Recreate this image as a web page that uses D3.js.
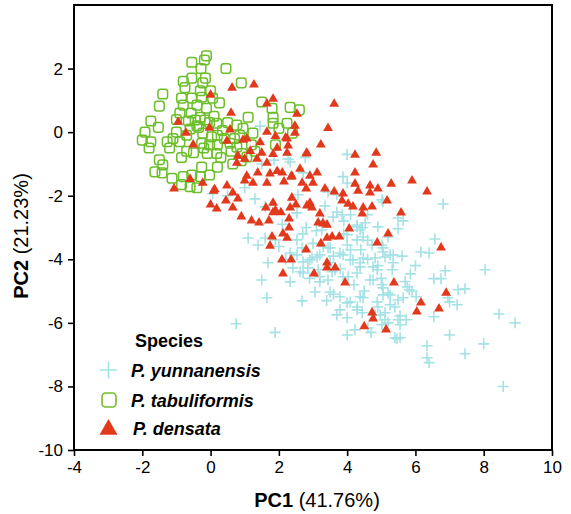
<!DOCTYPE html>
<html><head><meta charset="utf-8">
<script src="https://cdn.jsdelivr.net/npm/d3@7"></script>
<style>
body{margin:0;background:#fff;}
svg{display:block;font-family:"Liberation Sans",Arial,Helvetica,sans-serif;}
</style></head>
<body><svg id="c" width="571" height="514"></svg>
<script>
const xTicks=[-4,-2,0,2,4,6,8,10];
const yTicks=[-10,-8,-6,-4,-2,0,2];
const speciesNames=["P. yunnanensis","P. tabuliformis","P. densata"];
const xTitle=["PC1"," (41.76%)"];
const yTitle=["PC2"," (21.23%)"];

const yunnanensis=[[4.0,-0.7],[2.77,-0.8],[3.88,-1.4],[4.0,-1.6],[2.33,-0.94],[3.44,-1.88],[5.02,-2.13],[1.6,-2.35],[2.53,-2.54],[3.7,-2.51],[3.59,-2.67],[3.85,-2.6],[3.26,-3.08],[4.29,-2.98],[4.53,-2.85],[4.9,-2.98],[4.38,-3.08],[1.1,-3.33],[1.39,-3.55],[1.6,-3.33],[1.9,-3.39],[2.53,-3.39],[2.68,-3.64],[2.53,-3.86],[2.97,-3.96],[3.2,-3.86],[3.5,-3.64],[4.0,-3.55],[4.29,-3.39],[4.47,-3.3],[4.73,-3.55],[5.05,-3.77],[4.82,-3.96],[4.09,-4.02],[4.38,-4.24],[3.65,-4.33],[3.15,-4.33],[1.68,-4.11],[2.41,-4.27],[2.71,-4.43],[4.88,-4.33],[3.88,-4.55],
[1.5,-4.65],[1.65,-5.21],[0.75,-6.03],[1.89,-6.3],[2.68,-5.31],[2.33,-4.71],[3.06,-5.03],[2.85,-4.27],[3.2,-4.55],[3.5,-5.03],[3.7,-5.75],[4.0,-5.84],[3.79,-5.59],[4.09,-5.34],[4.0,-6.38],[4.23,-6.22],[4.61,-6.16],[5.02,-6.06],[5.4,-6.47],[4.29,-5.59],[4.82,-5.75],[5.11,-5.9],[4.38,-5.18],[3.79,-5.18],[4.03,-4.55],[4.29,-4.43],[4.67,-4.65],[5.02,-4.8],[5.2,-5.06],[4.88,-5.34],[5.26,-5.43],[4.38,-4.11],[4.76,-4.24],[5.11,-3.93],[5.35,-4.11],[3.88,-3.86],[4.17,-4.02],[3.12,-3.93],[2.71,-4.08],[2.33,-3.8],[3.2,-4.71],[3.44,-4.65],[3.56,-4.39],
[5.05,-2.2],[6.81,-2.26],[5.49,-2.7],[5.64,-2.79],[5.49,-3.04],[6.57,-3.36],[6.16,-3.77],[6.4,-3.8],[5.61,-3.9],[5.35,-3.86],[5.05,-3.64],[5.32,-4.33],[5.85,-4.46],[6.87,-4.36],[6.54,-4.61],[6.75,-4.61],[8.04,-4.33],[5.76,-4.87],[5.82,-4.96],[5.64,-5.21],[6.02,-5.18],[7.0,-5.34],[7.22,-5.43],[7.25,-4.96],[7.45,-4.93],[6.95,-5.21],[5.05,-5.12],[5.11,-5.68],[5.55,-5.78],[5.73,-5.9],[6.54,-5.81],[5.55,-6.06],[8.45,-5.72],[8.92,-6.0],[7.0,-6.38],[8.0,-6.66],[6.34,-6.72],[7.45,-6.97],[6.34,-7.1],[6.4,-7.25],[5.46,-6.5],[8.57,-8.0],
[1.45,0.19],[2.27,-0.85],[2.71,-1.28],[2.56,-1.97],[1.86,-0.88],[0.06,-1.94],[3.7,-1.97],
[3.35,-2.32],[4.29,-2.92],[4.44,-3.01],[4.0,-3.23],[5.02,-3.55],[3.44,-3.64],[3.79,-3.8],[4.47,-3.96],[5.26,-3.86],[2.91,-4.02],[2.62,-4.39],[4.76,-4.65],[5.05,-4.9],[5.26,-5.12],[5.49,-5.28],[4.47,-5.21],[4.0,-5.37],[4.44,-5.68],[4.97,-5.75],[5.49,-5.9],[5.55,-6.47],
[3.3,-3.6],[3.6,-3.9],[3.9,-3.2],[4.1,-3.7],[4.4,-3.7],[4.6,-4.0],[3.0,-3.5],[3.8,-4.3],[4.2,-4.8],[4.5,-5.0],[4.9,-5.5],[5.0,-4.6],[4.7,-6.3],[5.2,-6.0],[3.4,-5.3],[3.5,-4.1],[2.9,-4.6],[4.6,-3.4],[4.9,-4.2],[5.4,-5.5],[3.1,-3.1],[2.8,-3.0],[4.1,-2.6],[3.9,-2.8],[4.6,-2.6],[5.2,-3.3],[5.7,-4.7],[6.0,-4.2],[5.9,-5.0],[4.3,-5.5],[3.6,-5.1],[2.2,-4.0],[2.0,-3.6],[2.7,-3.2],[3.3,-2.8],
[0.5,-2.0],[1.0,-1.75],[1.5,-1.0],[2.1,-2.9],[1.3,-2.1]];

const tabuliformis=[[-0.12,2.4],[-0.18,2.27],[-0.55,2.2],[-0.28,2.0],[0.45,2.0],[-0.15,1.7],[-0.8,1.6],[-0.55,1.7],[-0.23,1.55],[0.9,1.55],[-0.75,1.4],[-1.4,1.2],[-1.5,0.82],[-0.85,1.07],[-0.55,1.07],[-0.26,1.1],[0.06,1.07],[0.26,0.92],[-0.8,0.85],[-0.4,0.85],[-0.12,0.75],[-0.57,0.6],[-0.3,0.47],[-0.16,0.38],[-0.45,0.38],[-0.03,0.3],[0.18,0.28],[-1.75,0.35],[-1.53,0.15],[-1.92,0],[-2.0,-0.25],[-1.75,-0.3],[-1.8,-0.5],[-1.27,-0.3],[-1.1,-0.2],[-1,0],[-0.9,-0.3],[-0.7,-0.6],[-0.85,-0.8],[-0.5,-0.65],[-0.23,-0.03],[0.03,-0.15],[0.2,-0.1],[-0.26,-0.35],[-0.03,-0.4],[0.2,-0.4],[-0.1,-0.67],[0.18,-0.67],[0.77,0.22],[0.95,0.12],[1.1,0.47],[0.86,-0.1],[0.57,-0.35],[0.77,-0.47],[0.92,-0.67],[1.06,-0.78],[1.24,-0.03],[1.5,0.95],[1.8,0.75],[1.83,0.47],[1.83,0.28],[2.33,0.78],[2.6,0.7],[2.24,0.28],[2.0,0.12],[2.4,-0.03],[1.9,-0.4],[-1.5,-0.87],[-1.4,-1.03],[-1.63,-1.25],[-1.42,-1.28],[-1.13,-1.45],[-0.85,-1.65],[-0.6,-1.72],[-0.4,-1.75],[-0.3,-1.4],[-0.26,-1.1],[0.2,-1.1],[-0.03,-1.35],[-0.55,-1.35],[-0.8,-1.4],
[-0.4,0.2],[-0.6,0.1],[0.1,0.5],[-0.2,-0.5],[0.4,-0.2],[0.6,-0.6],[0.3,-0.8],[-0.7,-0.1],[-1.2,-0.5],[-1.0,0.4],[0.5,0.3],[0.7,-0.2],[-0.9,0.6],[0.0,1.3],[-0.3,1.3],[1.2,-0.4],[0.9,-0.9],[0.65,-1.0],[1.3,-0.6],[-0.65,0.35],[-0.35,0.15],[0.35,0.05]];

const densata=[[0.63,1.42],[1.27,1.52],[0.0,1.2],[1.83,1.07],[1.65,0.92],[0.6,0.63],[-0.95,0.35],[-0.03,0.16],[0.57,0.1],[-0.72,0],[-0.51,-0.37],[0.48,-0.25],[0.95,-0.22],[1.06,-0.18],[2.47,0.22],[2.47,0.0],[1.65,0.03],[1.9,-0.1],[2.24,-0.18],[2.27,-0.4],[1.95,-0.47],[1.45,-0.3],[1.16,-0.57],[0.8,-0.72],[0.77,-0.94],[1.0,-0.82],[1.36,-0.82],[1.5,-0.63],[1.65,-0.94],[1.83,-0.67],[2.24,-0.63],[2.82,-0.63],[1.95,-1.2],[2.1,-1.25],[1.74,-1.28],[1.38,-1.25],[1.06,-1.35],[1.24,-1.57],[1.0,-1.5],[1.65,-1.57],[2.38,-1.35],[2.62,-1.13],[2.68,-1.57],[-0.6,-1.45],[-0.23,-1.57],[-1.07,-1.75],[0.48,-1.66],[0.12,-1.78],[0.65,-1.88],
[3.23,-0.37],[4.85,-0.63],[4.23,-0.69],[4.76,-1.0],[2.8,-0.65],[4.23,-1.25],[3.12,-1.25],[2.91,-1.35],[2.36,-1.38],[2.15,-1.53],[3.0,-1.57],[4.23,-1.6],[4.67,-1.66],[4.9,-1.75],[2.8,-1.75],[3.35,-1.75],[3.62,-1.85],[3.88,-1.91],[4.32,-1.82],[4.67,-1.88],[0.09,-1.82],[0.8,-2.07],[0.45,-2.13],[0.0,-2.26],[0.18,-2.38],[0.65,-2.35],[1.83,-2.2],[2.38,-2.04],[2.5,-2.26],[2.33,-2.35],[1.62,-2.35],[1.9,-2.44],[2.06,-2.5],[1.83,-2.5],[2.91,-2.2],[2.82,-2.29],[2.97,-2.35],[3.85,-2.13],[4.03,-2.23],[4.17,-2.32],[4.47,-2.35],[4.73,-2.32],[4.44,-2.54],[5.17,-2.13],[0.9,-2.63],[1.2,-2.76],[1.42,-2.82],[1.71,-2.76],[2.3,-2.7],[2.3,-2.98],[3.2,-2.54],[3.15,-2.82],[3.29,-2.85],[3.41,-2.89],[3.41,-3.3],[3.56,-3.26],[3.77,-3.26],[4.06,-3.01],[4.88,-3.45],[1.8,-3.26],[2.12,-3.17],[2.24,-3.3],[1.74,-3.55],[2.8,-3.67],[3.23,-3.48],[2.09,-3.99],[2.36,-3.99],[3.41,-4.08],[3.41,-4.24],[3.65,-4.24],[2.12,-4.43],[3.03,-4.43],
[5.2,-3.17],[3.94,-4.71],[5.37,-4.71],[4.73,-5.65],[4.76,-5.84],[4.5,-6.09],[5.14,-6.19],[5.29,-1.6],[5.9,-1.5],[6.34,-1.85],[5.58,-2.51],[6.75,-3.61],[6.9,-5.03],[6.16,-5.34],[6.04,-5.62],[6.69,-5.53],[3.62,0.91],[3.44,0.15],[2.53,0.6],[2.2,-0.15]];

const svg=d3.select("#c");
const x=d3.scaleLinear().domain([-4,10]).range([74,552]);
const y=d3.scaleLinear().domain([-10,4]).range([450,5]);

const cyan="#a4e2e6", green="#6cbf2a", red="#e2381c";

// points
const gP=svg.append("g");
gP.selectAll("path.yun").data(yunnanensis).enter().append("path").attr("class","yun")
  .attr("transform",d=>`translate(${x(d[0])},${y(d[1])})`)
  .attr("d","M-5.5,0H5.5M0,-5.5V5.5").attr("stroke",cyan).attr("stroke-width",1.6).attr("fill","none");
gP.selectAll("rect.tab").data(tabuliformis).enter().append("rect").attr("class","tab")
  .attr("x",d=>x(d[0])-4.8).attr("y",d=>y(d[1])-4.8).attr("width",9.6).attr("height",9.6).attr("rx",2.6)
  .attr("fill","none").attr("stroke",green).attr("stroke-width",1.5);
const tri=d3.symbol().type(d3.symbolTriangle).size(42);
gP.selectAll("path.den").data(densata).enter().append("path").attr("class","den")
  .attr("transform",d=>`translate(${x(d[0])},${y(d[1])+0.8})`)
  .attr("d",tri()).attr("fill",red);

// frame
svg.append("rect").attr("x",74).attr("y",5).attr("width",478).attr("height",445)
  .attr("fill","none").attr("stroke","#000").attr("stroke-width",2);

// axes
const fmt=d=>String(d);
const xa=svg.append("g").attr("transform","translate(0,450)")
  .call(d3.axisBottom(x).tickValues(xTicks).tickFormat(fmt).tickSize(6).tickSizeOuter(0).tickPadding(5));
const ya=svg.append("g").attr("transform","translate(74,0)")
  .call(d3.axisLeft(y).tickValues(yTicks).tickFormat(fmt).tickSize(6).tickSizeOuter(0).tickPadding(5));
[xa,ya].forEach(a=>{
  a.select(".domain").remove();
  a.selectAll(".tick line").attr("stroke","#000").attr("stroke-width",1.6);
  a.selectAll(".tick text").attr("font-size",17).attr("fill","#000")
   .attr("font-family","'Liberation Sans',Arial,sans-serif");
});

// axis titles
const xt=svg.append("text").attr("x",317).attr("y",507).attr("text-anchor","middle").attr("font-size",20);
xt.append("tspan").attr("font-weight","bold").text(xTitle[0]);
xt.append("tspan").text(xTitle[1]);
const yt=svg.append("text").attr("transform","translate(28,236) rotate(-90)").attr("text-anchor","middle").attr("font-size",20);
yt.append("tspan").attr("font-weight","bold").text(yTitle[0]);
yt.append("tspan").text(yTitle[1]);

// legend
const lg=svg.append("g");
lg.append("text").attr("x",135).attr("y",347).attr("font-size",18).attr("font-weight","bold").text("Species");
const ly=[370,400,428];
lg.append("path").attr("d",`M${100},${ly[0]}H${117}M${108.5},${ly[0]-8.5}V${ly[0]+8.5}`).attr("stroke",cyan).attr("stroke-width",1.6);
lg.append("rect").attr("x",102).attr("y",ly[1]-7).attr("width",14).attr("height",14).attr("rx",3.5)
  .attr("fill","none").attr("stroke",green).attr("stroke-width",1.6);
lg.append("path").attr("transform",`translate(108.5,${ly[2]+1.5})`).attr("d",d3.symbol().type(d3.symbolTriangle).size(140)()).attr("fill",red);
speciesNames.forEach((s,i)=>{
  lg.append("text").attr("x",i===2?133:131).attr("y",ly[i]+7).attr("font-size",18)
    .attr("font-weight","bold").attr("font-style","italic").text(s);
});
</script></body></html>
